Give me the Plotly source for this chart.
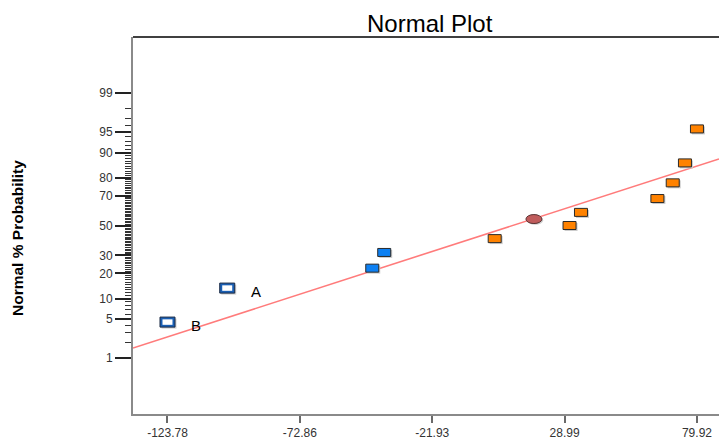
from statistics import NormalDist
import plotly.graph_objects as go

# ---- data -------------------------------------------------------------
effect_labels = ["B", "A", "", "", "", "", "", "", "", "", ""]
effect_values = [-123.78, -100.8, -45.0, -40.4, 2.1, 30.9, 35.3, 64.7, 70.6, 75.3, 79.92]
normal_pct = [4.5, 13.6, 22.7, 31.8, 40.9, 50.0, 59.1, 68.2, 77.3, 86.4, 95.5]
effect_kind = ["open", "open", "neg", "neg", "pos", "pos", "pos", "pos", "pos", "pos", "pos"]

error_values = [17.2]
error_pct = [54.5]

fit_center = 9.0
fit_sd = 67.9

x_tick_vals = [-123.78, -72.86, -21.93, 28.99, 79.92]
x_tick_text = ["-123.78", "-72.86", "-21.93", "28.99", "79.92"]
y_tick_pcts = [1, 5, 10, 20, 30, 50, 70, 80, 90, 95, 99]
y_minor_pcts = [2, 3, 4] + [p for p in range(6, 95) if p not in (10, 20, 30, 50, 70, 80, 90)] + [96, 97, 98]

x_range = [-137.05, 88.4]
z_range = [-3.309, 3.309]

nd = NormalDist()


def probit(pct):
    return nd.inv_cdf(pct / 100.0)


FONT = "Liberation Sans, Arial, sans-serif"

fig = go.Figure()

# fitted normal reference line
line_x = list(x_range)
line_z = [(v - fit_center) / fit_sd for v in line_x]
fig.add_trace(go.Scatter(
    x=line_x, y=line_z, mode="lines",
    line=dict(color="#ff7b7b", width=1.6),
    hoverinfo="skip", showlegend=False,
))

# invisible points carrying hover info
fig.add_trace(go.Scatter(
    x=effect_values + error_values,
    y=[probit(p) for p in normal_pct + error_pct],
    mode="markers", marker=dict(size=12, opacity=0),
    showlegend=False,
))

shapes = []


def px_rect(x, z, w, h, dx=0.0, dy=0.0, fill="white", line_color=None, line_width=0, kind="rect"):
    return dict(
        type=kind, xref="x", yref="y", xsizemode="pixel", ysizemode="pixel",
        xanchor=x, yanchor=z,
        x0=-w / 2 + dx, x1=w / 2 + dx, y0=-h / 2 + dy, y1=h / 2 + dy,
        fillcolor=fill,
        line=dict(color=line_color or fill, width=line_width),
        layer="above",
    )


annotations = []
for x, p, kind, lab in zip(effect_values, normal_pct, effect_kind, effect_labels):
    z = probit(p)
    if kind == "open":
        w, h = 15, 10
        shapes.append(px_rect(x, z, w, h, 1.5, -1.5, fill="#cfcfcf"))
        shapes.append(px_rect(x, z, w, h, fill="#1a5fb4", line_color="#1c2b45", line_width=1))
        shapes.append(px_rect(x, z, w - 5, h - 4.5, fill="white"))
    else:
        w, h = 13, 8
        fill = "#0d80f2" if kind == "neg" else "#ff8200"
        shapes.append(px_rect(x, z, w, h, 1.5, -1.5, fill="#cccccc"))
        shapes.append(px_rect(x, z, w, h, fill=fill, line_color="#2a2a2a", line_width=1))
    if lab:
        annotations.append(dict(
            x=x, y=z, xref="x", yref="y", text=lab, showarrow=False,
            xshift=29, yshift=-3, font=dict(family=FONT, size=15, color="black"),
        ))

for x, p in zip(error_values, error_pct):
    z = probit(p)
    shapes.append(px_rect(x, z, 16, 9, 1.2, -1.2, fill="#cccccc", kind="circle"))
    shapes.append(px_rect(x, z, 16, 9, fill="#c05c5c", line_color="#5a3333", line_width=1, kind="circle"))

# top frame line
shapes.append(dict(type="line", xref="paper", yref="paper", x0=0, x1=1, y0=1, y1=1,
                   line=dict(color="black", width=1.5), layer="above"))

# y-axis title and chart title
annotations.append(dict(
    text="<b>Normal % Probability</b>", xref="paper", yref="paper",
    x=(17 - 133) / 586, y=(414 - 238) / 377, xanchor="center", yanchor="middle",
    textangle=-90, showarrow=False, font=dict(family=FONT, size=15.5, color="black"),
))
annotations.append(dict(
    text="Normal Plot", xref="paper", yref="paper", x=(430 - 133) / 586,
    y=(414 - 23) / 377, xanchor="center", yanchor="middle", showarrow=False,
    font=dict(family=FONT, size=24, color="black"),
))

fig.update_layout(
    width=719, height=441,
    margin=dict(l=133, r=0, t=37, b=27),
    paper_bgcolor="white", plot_bgcolor="white",
    shapes=shapes, annotations=annotations,
    showlegend=False,
    xaxis=dict(
        range=x_range, showgrid=False, zeroline=False,
        showline=True, linecolor="#8a8a8a", linewidth=2,
        ticks="outside", ticklen=7, tickwidth=1.5, tickcolor="#6a6a6a",
        tickmode="array", tickvals=x_tick_vals, ticktext=x_tick_text,
        tickfont=dict(family=FONT, size=12, color="#333"),
    ),
    yaxis=dict(
        range=z_range, showgrid=False, zeroline=False,
        showline=True, linecolor="#8a8a8a", linewidth=2,
        ticks="outside", ticklen=16, tickwidth=1.5, tickcolor="#222",
        tickmode="array", tickvals=[probit(p) for p in y_tick_pcts],
        ticktext=[str(p) for p in y_tick_pcts],
        tickfont=dict(family=FONT, size=12, color="#333"),
        minor=dict(
            tickmode="array", tickvals=[probit(p) for p in y_minor_pcts],
            ticks="outside", ticklen=6, tickwidth=1, tickcolor="#333", showgrid=False,
        ),
    ),
)

fig.write_html("out.html")
